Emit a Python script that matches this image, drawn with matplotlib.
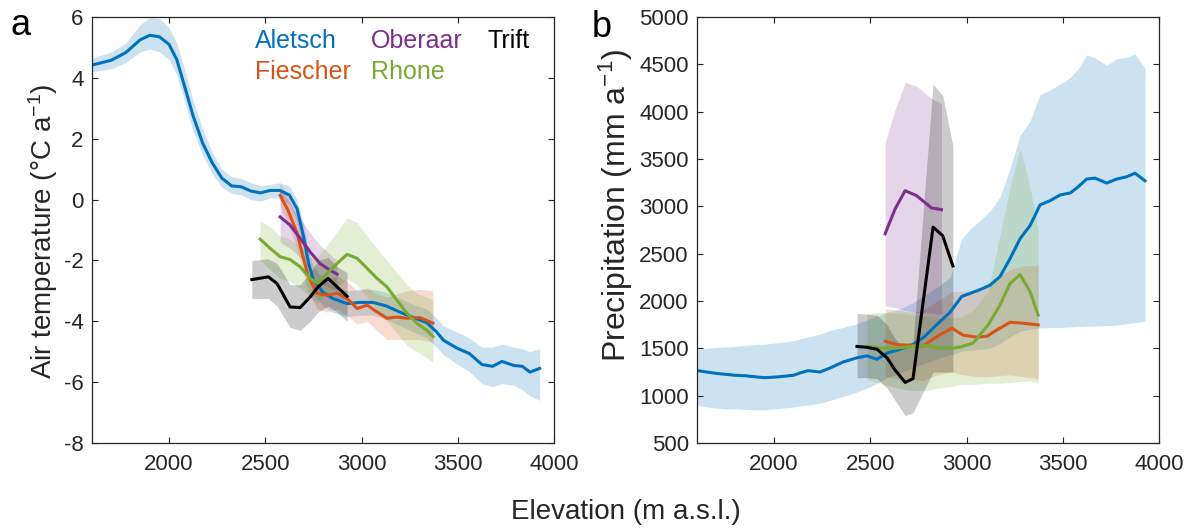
import matplotlib.pyplot as plt

plt.rcParams['font.family'] = ['Liberation Sans', 'DejaVu Sans']
plt.rcParams['mathtext.fontset'] = 'custom'
plt.rcParams['mathtext.rm'] = 'Liberation Sans'
plt.rcParams['mathtext.it'] = 'Liberation Sans:italic'
plt.rcParams['axes.unicode_minus'] = False

glaciers = ['Aletsch', 'Fiescher', 'Oberaar', 'Rhone', 'Trift']
colors = ['#0072BD', '#D95319', '#7E2F8E', '#77AC30', '#000000']

# ---- air temperature (panel a) ----
aletsch_t_x = [1600, 1700, 1775, 1850, 1900, 1950, 2000, 2040, 2075, 2125, 2175, 2225,
               2275, 2325, 2375, 2425, 2475, 2525, 2575, 2625, 2665, 2700, 2725, 2750,
               2800, 2850, 2925, 2990, 3060, 3130, 3200, 3270, 3340, 3390, 3425, 3495,
               3560, 3625, 3680, 3730, 3790, 3835, 3875, 3925]
aletsch_t = [4.42, 4.58, 4.83, 5.25, 5.40, 5.35, 5.10, 4.60, 3.85, 2.75, 1.85, 1.20,
             0.70, 0.45, 0.42, 0.28, 0.22, 0.30, 0.30, 0.15, -0.30, -1.25, -2.10, -2.65,
             -3.05, -3.25, -3.42, -3.38, -3.38, -3.50, -3.70, -3.88, -4.05, -4.35, -4.62, -4.88,
             -5.06, -5.42, -5.48, -5.32, -5.45, -5.48, -5.67, -5.55]
aletsch_t_lo = [4.20, 4.30, 4.50, 4.85, 4.95, 4.85, 4.60, 4.10, 3.35, 2.25, 1.45, 0.85,
                0.40, 0.20, 0.15, 0.00, -0.05, 0.05, 0.05, -0.15, -0.70, -1.70, -2.60, -3.10,
                -3.50, -3.70, -3.85, -3.80, -3.80, -3.95, -4.15, -4.35, -4.55, -4.85, -5.10, -5.40,
                -5.65, -6.05, -6.15, -6.05, -6.10, -6.25, -6.45, -6.60]
aletsch_t_hi = [4.65, 4.85, 5.15, 5.75, 5.98, 5.95, 5.65, 5.15, 4.40, 3.25, 2.30, 1.55,
                1.00, 0.75, 0.70, 0.55, 0.45, 0.50, 0.55, 0.45, 0.00, -0.85, -1.70, -2.20,
                -2.60, -2.85, -3.00, -2.95, -2.95, -3.05, -3.25, -3.45, -3.60, -3.90, -4.15, -4.35,
                -4.55, -4.85, -4.85, -4.75, -4.85, -4.90, -5.00, -4.90]

fiescher_t_x = [2577, 2618, 2665, 2696, 2722, 2769, 2821, 2873, 2925, 2977, 3029, 3080,
                3132, 3184, 3236, 3304, 3371]
fiescher_t = [0.14, -0.35, -1.10, -1.88, -2.49, -3.08, -3.14, -3.08, -3.25, -3.58, -3.47, -3.69,
              -3.90, -3.86, -3.90, -3.88, -4.06]
fiescher_t_lo = [-0.20, -0.80, -1.60, -2.40, -3.00, -3.60, -3.70, -3.60, -3.80, -4.10, -4.00, -4.30,
                 -4.60, -4.60, -4.60, -4.60, -4.70]
fiescher_t_hi = [0.55, 0.10, -0.60, -1.40, -2.00, -2.60, -2.60, -2.50, -2.70, -3.00, -2.90, -3.10,
                 -3.20, -3.10, -3.00, -2.95, -3.00]

oberaar_t_x = [2577, 2629, 2681, 2733, 2784, 2836, 2873]
oberaar_t = [-0.57, -0.84, -1.27, -1.72, -2.10, -2.32, -2.45]
oberaar_t_lo = [-1.40, -1.60, -1.90, -2.30, -2.70, -2.90, -3.00]
oberaar_t_hi = [0.30, -0.10, -0.60, -1.10, -1.50, -1.80, -2.00]

rhone_t_x = [2473, 2525, 2577, 2629, 2681, 2733, 2769, 2821, 2873, 2925, 2977, 3029,
             3080, 3132, 3184, 3236, 3288, 3340, 3371]
rhone_t = [-1.30, -1.60, -1.88, -1.97, -2.21, -2.59, -2.75, -2.43, -2.10, -1.80, -1.93, -2.26,
           -2.59, -2.87, -3.31, -3.74, -4.07, -4.30, -4.50]
rhone_t_lo = [-2.00, -2.30, -2.60, -2.70, -2.90, -3.20, -3.40, -3.10, -2.90, -2.60, -2.80, -3.20,
              -3.60, -4.00, -4.40, -4.80, -5.00, -5.20, -5.35]
rhone_t_hi = [-0.70, -0.90, -1.20, -1.30, -1.55, -1.90, -1.90, -1.50, -1.05, -0.60, -0.75, -1.20,
              -1.60, -2.00, -2.40, -2.80, -3.10, -3.20, -3.30]

trift_t_x = [2430, 2516, 2561, 2629, 2681, 2733, 2774, 2826, 2873, 2925]
trift_t = [-2.63, -2.54, -2.76, -3.53, -3.55, -3.20, -2.87, -2.59, -2.87, -3.18]
trift_t_lo = [-3.25, -3.25, -3.50, -4.20, -4.30, -4.00, -3.70, -3.50, -3.70, -4.00]
trift_t_hi = [-2.00, -1.95, -2.10, -2.80, -2.80, -2.40, -2.00, -1.90, -2.20, -2.40]

# ---- precipitation (panel b) ----
aletsch_p_x = [1600, 1650, 1700, 1750, 1800, 1850, 1900, 1950, 2000, 2050, 2100, 2135,
               2177, 2239, 2291, 2358, 2431, 2483, 2535, 2587, 2655, 2720, 2780, 2850,
               2914, 2975, 3018, 3070, 3122, 3174, 3226, 3278, 3330, 3382, 3434, 3486,
               3538, 3579, 3624, 3668, 3728, 3780, 3832, 3875, 3927]
aletsch_p = [1265, 1250, 1235, 1225, 1215, 1210, 1200, 1190, 1195, 1205, 1215, 1240,
             1264, 1250, 1292, 1355, 1400, 1420, 1385, 1450, 1490, 1540, 1620, 1760,
             1880, 2048, 2080, 2120, 2167, 2258, 2447, 2658, 2797, 3015, 3060, 3120,
             3141, 3204, 3288, 3298, 3246, 3288, 3312, 3350, 3270]
aletsch_p_lo = [900, 880, 870, 860, 860, 855, 850, 850, 860, 870, 880, 890,
                900, 920, 950, 990, 1040, 1080, 1130, 1190, 1240, 1290, 1340, 1390,
                1430, 1470, 1480, 1490, 1500, 1550, 1620, 1680, 1700, 1715, 1720, 1720,
                1725, 1730, 1735, 1735, 1740, 1745, 1760, 1770, 1785]
aletsch_p_hi = [1490, 1500, 1510, 1515, 1520, 1530, 1540, 1545, 1555, 1565, 1580, 1600,
                1620, 1650, 1690, 1720, 1760, 1800, 1840, 1880, 1920, 1980, 2060, 2150,
                2250, 2660, 2760, 2850, 2950, 3100, 3400, 3750, 3900, 4180, 4230, 4290,
                4360, 4450, 4600, 4570, 4490, 4560, 4575, 4610, 4460]

fiescher_p_x = [2577, 2639, 2722, 2774, 2847, 2925, 2982, 3055, 3107, 3158, 3226, 3294, 3372]
fiescher_p = [1576, 1537, 1533, 1523, 1628, 1712, 1639, 1618, 1628, 1695, 1775, 1765, 1747]
fiescher_p_lo = [1200, 1180, 1170, 1160, 1220, 1250, 1220, 1200, 1200, 1210, 1220, 1200, 1180]
fiescher_p_hi = [1920, 1900, 1880, 1900, 2000, 2100, 2100, 2120, 2180, 2250, 2330, 2370, 2380]

oberaar_p_x = [2577, 2629, 2681, 2740, 2818, 2870]
oberaar_p = [2710, 2973, 3165, 3113, 2983, 2965]
oberaar_p_lo = [1950, 1930, 1900, 1880, 1870, 1860]
oberaar_p_hi = [3680, 4020, 4310, 4270, 4140, 4080]

rhone_p_x = [2483, 2551, 2639, 2722, 2800, 2862, 2930, 2966, 3034, 3112, 3174, 3226, 3278, 3330, 3372]
rhone_p = [1523, 1502, 1502, 1523, 1530, 1502, 1502, 1513, 1555, 1747, 1957, 2185, 2279, 2100, 1852]
rhone_p_lo = [1170, 1130, 1080, 1050, 1060, 1080, 1100, 1120, 1120, 1130, 1130, 1140, 1150, 1160, 1130]
rhone_p_hi = [1870, 1880, 1870, 1850, 1840, 1820, 1820, 1830, 1900, 2100, 2700, 3200, 3620, 3200, 2750]

trift_p_x = [2431, 2483, 2535, 2587, 2629, 2681, 2722, 2826, 2876, 2929]
trift_p = [1520, 1510, 1490, 1400, 1270, 1140, 1180, 2780, 2690, 2370]
trift_p_lo = [1190, 1190, 1180, 1080, 950, 790, 820, 1250, 1250, 1250]
trift_p_hi = [1870, 1860, 1850, 1750, 1600, 1500, 1550, 4290, 4170, 3640]

temp_series = [
    (aletsch_t_x, aletsch_t, aletsch_t_lo, aletsch_t_hi),
    (fiescher_t_x, fiescher_t, fiescher_t_lo, fiescher_t_hi),
    (oberaar_t_x, oberaar_t, oberaar_t_lo, oberaar_t_hi),
    (rhone_t_x, rhone_t, rhone_t_lo, rhone_t_hi),
    (trift_t_x, trift_t, trift_t_lo, trift_t_hi),
]
prec_series = [
    (aletsch_p_x, aletsch_p, aletsch_p_lo, aletsch_p_hi),
    (fiescher_p_x, fiescher_p, fiescher_p_lo, fiescher_p_hi),
    (oberaar_p_x, oberaar_p, oberaar_p_lo, oberaar_p_hi),
    (rhone_p_x, rhone_p, rhone_p_lo, rhone_p_hi),
    (trift_p_x, trift_p, trift_p_lo, trift_p_hi),
]

fig = plt.figure(figsize=(11.94, 5.28), dpi=100)
ax1 = fig.add_axes([0.0771, 0.161, 0.3869, 0.8068])
ax2 = fig.add_axes([0.5838, 0.161, 0.3869, 0.8068])

for ax, series in [(ax1, temp_series), (ax2, prec_series)]:
    for (x, y, lo, hi), c in zip(series, colors):
        ax.fill_between(x, lo, hi, color=c, alpha=0.2, lw=0)
        ax.plot(x, y, color=c, lw=2.2)
    ax.set_xlim(1600, 4000)
    ax.set_xticks([2000, 2500, 3000, 3500, 4000])
    ax.tick_params(direction='in', top=True, right=True, length=4, width=0.8,
                   labelsize=16, colors='#262626')
    ax.tick_params(axis='x', pad=8)
    ax.tick_params(axis='y', pad=6)
    for s in ax.spines.values():
        s.set_color('#262626')
        s.set_linewidth(0.9)

ax1.set_ylim(-8, 6)
ax1.set_yticks(range(-8, 7, 2))
ax2.set_ylim(500, 5000)
ax2.set_yticks(range(500, 5001, 500))

# legend as coloured names
legend_pos = [(0.353, 0.927), (0.353, 0.854), (0.604, 0.927), (0.604, 0.854), (0.857, 0.927)]
for name, c, (lx, ly) in zip(glaciers, colors, legend_pos):
    ax1.text(lx, ly, name, color=c, fontsize=18, transform=ax1.transAxes,
             ha='left', va='baseline')

fig.text(43 / 1194, 0.5 + (528 / 2 - 231) / 528, r'Air temperature ($\degree$C a$^{-1}$)',
         rotation=90, ha='center', va='center', fontsize=20, color='#262626')
fig.text(616 / 1194, 0.5 + (528 / 2 - 205) / 528, r'Precipitation (mm a$^{-1}$)',
         rotation=90, ha='center', va='center', fontsize=23, color='#262626')
fig.text(626 / 1194, 9 / 528, 'Elevation (m a.s.l.)', ha='center', va='baseline',
         fontsize=20, color='#262626')
fig.text(10 / 1194, (528 - 35) / 528, 'a', fontsize=26, ha='left', va='baseline')
fig.text(592 / 1194, (528 - 37) / 528, 'b', fontsize=26, ha='left', va='baseline')

fig.savefig('out.png', dpi=100)
